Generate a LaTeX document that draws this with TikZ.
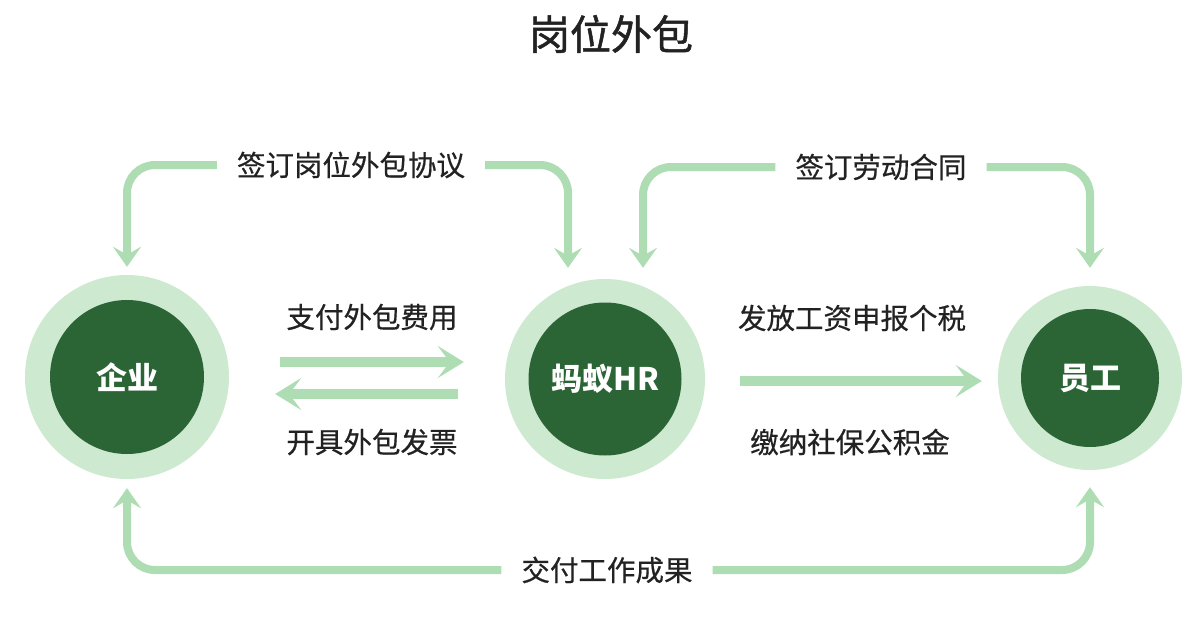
\documentclass[tikz,border=0pt]{standalone}
\usepackage{fontspec}
\setmainfont{Noto Sans CJK SC}
\newfontfamily\titlefont[FakeBold=1.2]{Noto Sans CJK SC}
\newfontfamily\labelfont[FakeBold=0.5]{Noto Sans CJK SC}
\usetikzlibrary{arrows.meta}
\definecolor{lightg}{HTML}{CDE9D0}
\definecolor{arrg}{HTML}{AEDDB4}
\definecolor{darkg}{HTML}{2B6535}
\definecolor{txt}{HTML}{222222}
\begin{document}
\begin{tikzpicture}[x=1pt,y=-1pt,
  outerc/.style={circle,fill=lightg,inner sep=0pt,minimum size=#1},
  innerc/.style={circle,fill=darkg,inner sep=0pt,minimum size=#1,text=white,font=\fontsize{31}{36}\selectfont\bfseries},
  lbl/.style={text=txt,font=\labelfont\fontsize{28.5}{34}\selectfont,inner xsep=20pt,inner ysep=0pt},
  loop/.style={draw=arrg,line width=8pt,rounded corners=28pt,-{Stealth[length=20pt,width=28pt,inset=8pt]}},
  flow/.style={draw=arrg,line width=10pt,-{Stealth[length=26pt,width=32pt,inset=12pt]}}]
\fill[white] (0,0) rectangle (1193,618);
\useasboundingbox (0,0) rectangle (1193,618);

\node[text=txt,font=\titlefont\fontsize{41}{48}\selectfont] (title) at (611,34) {岗位外包};

% circles
\node[outerc=204pt] (ent) at (127,377) {};
\node[innerc=154pt] (entin) at (127,377) {企业};
\node[outerc=200pt] (hr) at (605,379) {};
\node[innerc=153pt] (hrin) at (605,379) {蚂蚁HR};
\node[outerc=184pt] (emp) at (1090,378) {};
\node[innerc=138pt] (empin) at (1090,378) {员工};

% labels
\node[lbl] (l1) at (351,165) {签订岗位外包协议};
\node[lbl] (l2) at (881,167) {签订劳动合同};
\node[lbl] (l3) at (372,317) {支付外包费用};
\node[lbl] (l4) at (372,442) {开具外包发票};
\node[lbl] (l5) at (852,318) {发放工资申报个税};
\node[lbl] (l6) at (850,442) {缴纳社保公积金};
\node[lbl] (l7) at (607,570) {交付工作成果};

% loops
\draw[loop,shorten >=8pt] (l1.west) -| (ent.north);
\draw[loop,shorten >=11pt] (l1.east) -| ([xshift=-37pt]hr.north);
\draw[loop,shorten >=11pt] (l2.west) -| ([xshift=38pt]hr.north);
\draw[loop,shorten >=18pt] (l2.east) -| (emp.north);
\draw[loop,shorten >=9pt] (l7.west) -| (ent.south);
\draw[loop,shorten >=17pt] (l7.east) -| (emp.south);

% flows
\draw[flow] ([xshift=51pt,yshift=15pt]ent.east) -- ([xshift=-41pt,yshift=17pt]hr.west);
\draw[flow] ([xshift=-47pt,yshift=-15pt]hr.west) -- ([xshift=46pt,yshift=-17pt]ent.east);
\draw[flow] ([xshift=35pt,yshift=-2pt]hr.east) -- ([xshift=-16pt,yshift=-3pt]emp.west);
\end{tikzpicture}
\end{document}
